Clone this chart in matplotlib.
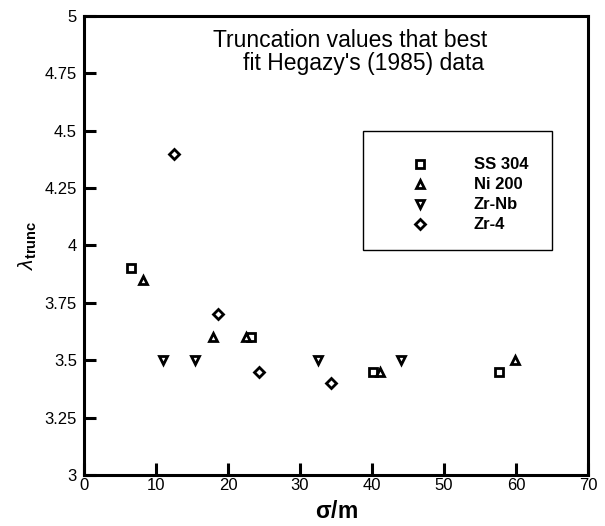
import numpy as np
import matplotlib
matplotlib.use("Agg")
import matplotlib.pyplot as plt
import matplotlib.patches as mpatches

plt.rcParams.update({
    "font.family": ["Liberation Sans", "DejaVu Sans"],
    "mathtext.fontset": "custom",
    "mathtext.rm": "Liberation Sans",
    "mathtext.bf": "Liberation Sans:bold",
    "mathtext.it": "Liberation Sans:italic",
})

# data
ss_x = [6.5, 23.2, 40.2, 57.6]
ss_y = [3.9, 3.6, 3.45, 3.45]
ni_x = [8.15, 17.9, 22.5, 41.1, 59.9]
ni_y = [3.85, 3.6, 3.6, 3.45, 3.5]
zrnb_x = [11.0, 15.4, 32.5, 44.0]
zrnb_y = [3.5, 3.5, 3.5, 3.5]
zr4_x = [12.5, 18.6, 24.3, 34.3]
zr4_y = [4.4, 3.7, 3.45, 3.4]

series = [
    ("SS 304", ss_x, ss_y, "s"),
    ("Ni 200", ni_x, ni_y, "^"),
    ("Zr-Nb", zrnb_x, zrnb_y, "v"),
    ("Zr-4", zr4_x, zr4_y, "D"),
]
msizes = {"s": 6.0, "^": 6.0, "v": 6.0, "D": 5.6}

xticks = [0, 10, 20, 30, 40, 50, 60, 70]
yticks = [3, 3.25, 3.5, 3.75, 4, 4.25, 4.5, 4.75, 5]
ytick_labels = ["3", "3.25", "3.5", "3.75", "4", "4.25", "4.5", "4.75", "5"]

fig = plt.figure(figsize=(6.05, 5.26), dpi=100)
ax = fig.add_axes([0.1388, 0.0970, 0.8331, 0.8726])

for name, xs, ys, m in series:
    ax.plot(xs, ys, ls="none", marker=m, ms=msizes[m], mfc="white",
            mec="black", mew=2.0, label=name)

ax.set_xlim(0, 70)
ax.set_ylim(3, 5)
ax.set_xticks(xticks)
ax.set_yticks(yticks)
ax.set_yticklabels(ytick_labels)
ax.tick_params(direction="in", length=8.5, width=2.2, labelsize=12,
               top=False, right=False)
ax.tick_params(axis="x", pad=2)
ax.tick_params(axis="y", pad=5)
for sp in ax.spines.values():
    sp.set_linewidth(2.2)

ax.set_xlabel(r"$\mathbf{\sigma/m}$", fontsize=16.5, labelpad=5)
ax.set_ylabel(r"$\lambda_{\mathbf{trunc}}$", fontsize=15, labelpad=4)

ax.text(0.5286, 0.933, "Truncation values that best", transform=ax.transAxes,
        fontsize=16.5, ha="center", va="baseline")
ax.text(0.5556, 0.882, "fit Hegazy's (1985) data", transform=ax.transAxes,
        fontsize=16.5, ha="center", va="baseline")

# legend box drawn separately, entries placed inside it
box = mpatches.Rectangle((0.554, 0.491), 0.375, 0.258, transform=ax.transAxes,
                         fill=False, ec="black", lw=1.0)
ax.add_patch(box)
leg = ax.legend(loc="upper left", bbox_to_anchor=(0.6335, 0.692),
                frameon=False, borderpad=0, borderaxespad=0,
                handlelength=2.0, handletextpad=2.24, labelspacing=0.3,
                numpoints=1, prop={"weight": "bold", "size": 12})

fig.savefig("out.png", dpi=100)
